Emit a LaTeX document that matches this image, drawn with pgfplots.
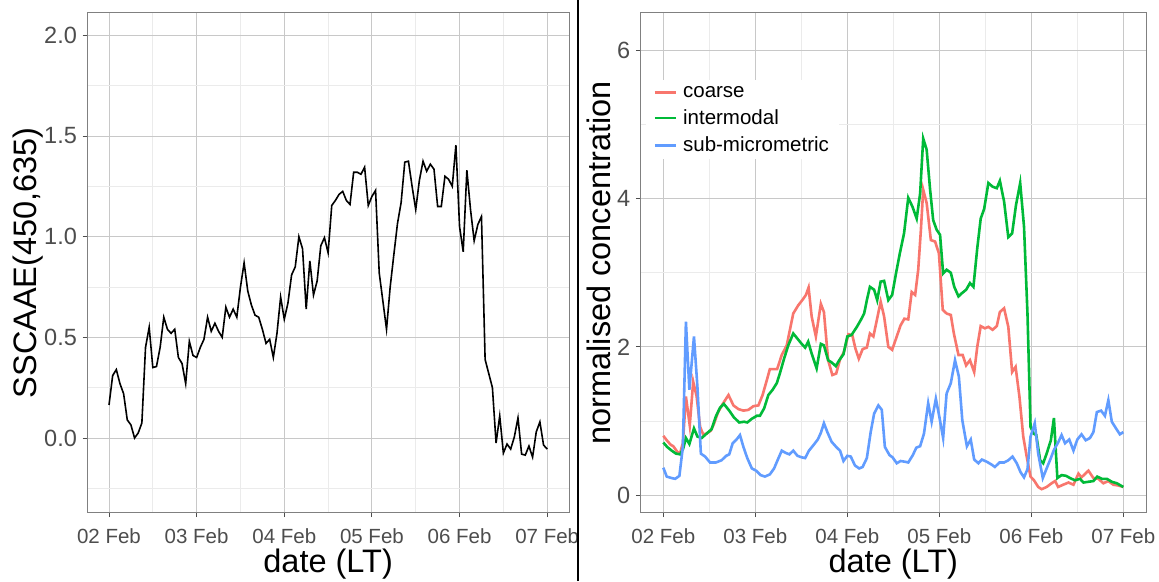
\documentclass[border=0pt]{standalone}
\usepackage{fontspec}
\setmainfont{Liberation Sans}
\usepackage{pgfplots}
\usepackage{pgfplotstable}
\pgfplotsset{compat=1.18}
\definecolor{coarse}{HTML}{F8766D}
\definecolor{inter}{HTML}{00BA38}
\definecolor{submic}{HTML}{619CFF}
\definecolor{gridmaj}{HTML}{C8C8C8}
\definecolor{gridmin}{HTML}{EBEBEB}
\definecolor{frame}{HTML}{808080}
\definecolor{ticklab}{HTML}{4D4D4D}

\pgfplotstableread{
h v
0 0.164
1 0.31
2 0.34
3 0.27
4 0.22
5 0.09
6 0.065
7 0.0
8 0.025
9 0.075
10 0.45
11 0.55
12 0.35
13 0.355
14 0.45
15 0.60
16 0.54
17 0.52
18 0.54
19 0.40
20 0.37
21 0.27
22 0.48
23 0.41
24 0.40
25 0.45
26 0.49
27 0.60
28 0.53
29 0.57
30 0.53
31 0.50
32 0.65
33 0.60
34 0.64
35 0.60
36 0.75
37 0.87
38 0.73
39 0.66
40 0.61
41 0.60
42 0.54
43 0.47
44 0.49
45 0.40
46 0.52
47 0.70
48 0.59
49 0.67
50 0.81
51 0.85
52 1.00
53 0.94
54 0.64
55 0.88
56 0.71
57 0.78
58 0.955
59 0.995
60 0.92
61 1.155
62 1.18
63 1.21
64 1.225
65 1.18
66 1.16
67 1.32
68 1.32
69 1.31
70 1.345
71 1.155
72 1.20
73 1.23
74 0.82
75 0.68
76 0.54
77 0.75
78 0.91
79 1.065
80 1.17
81 1.37
82 1.375
83 1.25
84 1.135
85 1.28
86 1.375
87 1.325
88 1.36
89 1.335
90 1.15
91 1.15
92 1.30
93 1.285
94 1.25
95 1.455
96 1.05
97 0.925
98 1.33
99 1.135
100 0.98
101 1.06
102 1.10
103 0.39
104 0.32
105 0.25
106 -0.025
107 0.11
108 -0.075
109 -0.03
110 -0.055
111 0.005
112 0.10
113 -0.08
114 -0.085
115 -0.04
116 -0.095
117 0.03
118 0.08
119 -0.035
120 -0.055
}\sscaae

\pgfplotstableread{
h v
0 0.80
0.9 0.74
1.9 0.68
2.6 0.66
3.7 0.58
4.4 0.57
5.1 0.70
5.9 1.33
6.9 0.94
7.8 1.53
8.7 1.33
9.6 0.92
10.4 0.82
11.3 0.83
12.4 0.87
13.2 0.96
14.3 1.12
15.5 1.23
17.0 1.35
18.3 1.21
19.6 1.16
20.9 1.14
22.2 1.15
23.5 1.20
24.8 1.21
25.9 1.35
27.0 1.55
27.8 1.70
29.7 1.70
30.9 1.89
32.2 2.02
33.9 2.45
35.2 2.56
36.4 2.64
37.2 2.70
37.9 2.80
38.7 2.41
39.8 2.14
41.1 2.58
41.9 2.47
43.0 1.82
44.1 1.62
45.1 1.64
46.1 1.83
47.1 1.93
48.3 2.17
49.3 2.16
50.1 1.98
51.0 1.84
52.0 1.97
53.1 1.99
53.9 2.18
54.8 2.14
55.7 2.36
56.7 2.61
57.6 2.41
58.7 2.00
59.7 1.96
60.9 2.14
61.9 2.29
62.9 2.38
63.9 2.37
64.8 2.74
65.7 2.70
66.5 3.04
67.2 3.58
67.8 4.12
68.7 3.94
69.8 3.44
70.9 3.42
71.9 3.26
72.9 2.50
73.9 2.45
75.0 2.43
75.8 2.18
77.0 1.89
78.1 1.89
79.0 1.75
80.0 1.82
81.1 1.66
81.9 2.00
82.8 2.28
83.9 2.25
84.8 2.27
85.9 2.23
87.0 2.28
87.8 2.47
88.9 2.52
90.0 2.27
91.0 1.66
91.9 1.73
92.9 1.33
93.9 0.79
94.8 0.52
95.8 0.25
96.7 0.20
97.8 0.11
98.7 0.08
100.0 0.11
101.3 0.16
102.2 0.19
103.0 0.11
104.3 0.14
105.7 0.17
107.0 0.14
108.3 0.29
109.1 0.24
110.9 0.33
112.2 0.23
113.5 0.22
114.8 0.16
116.1 0.19
117.4 0.14
118.7 0.13
120.0 0.11
}\coarsedata

\pgfplotstableread{
h v
0 0.71
1.0 0.65
2.2 0.60
3.3 0.56
4.4 0.55
5.2 0.63
5.9 0.77
6.8 0.69
8.0 0.90
8.9 0.79
10.0 0.77
11.3 0.83
12.6 0.89
13.7 1.06
14.8 1.18
15.8 1.23
17.2 1.14
18.4 1.05
19.8 0.98
21.1 0.99
21.9 0.98
23.1 1.03
24.4 1.07
25.2 1.07
26.3 1.17
27.4 1.35
28.5 1.42
29.6 1.51
30.4 1.64
31.5 1.84
32.6 2.02
33.9 2.18
35.0 2.11
36.1 2.04
37.0 1.99
37.8 2.07
38.7 1.91
40.0 1.71
41.1 2.04
41.9 2.02
43.0 1.82
43.9 1.79
45.0 1.74
45.9 1.82
47.0 1.90
48.0 2.14
49.1 2.16
50.5 2.27
51.5 2.36
52.4 2.45
53.1 2.63
53.9 2.81
55.0 2.77
55.8 2.63
56.7 2.88
57.6 2.89
58.7 2.63
59.7 2.70
60.7 2.99
61.7 3.26
62.8 3.53
63.9 4.01
65.0 3.89
66.1 3.73
67.0 4.07
67.8 4.81
68.7 4.66
69.6 4.12
70.4 3.71
71.3 3.58
72.2 3.51
73.0 2.99
73.9 3.04
75.0 3.00
75.9 2.81
77.0 2.68
77.8 2.72
79.0 2.77
80.0 2.86
80.9 2.81
81.9 3.33
82.8 3.73
83.7 3.86
84.8 4.21
85.9 4.16
87.0 4.14
87.8 4.24
88.9 3.96
90.0 3.48
91.0 3.53
92.0 3.91
93.1 4.21
94.1 3.62
95.0 2.45
95.8 0.92
96.6 0.83
97.3 0.81
98.3 0.47
99.1 0.43
100.0 0.56
101.1 0.74
101.9 1.04
102.8 0.23
103.9 0.27
105.1 0.26
106.1 0.23
107.4 0.20
108.7 0.22
109.6 0.17
110.9 0.18
112.2 0.19
113.2 0.25
114.4 0.22
115.7 0.22
117.0 0.18
118.3 0.16
120.0 0.11
}\interdata

\pgfplotstableread{
h v
0 0.37
0.9 0.25
2.2 0.23
3.1 0.22
4.2 0.26
5.1 0.65
5.9 2.34
6.8 1.42
8.0 2.14
8.9 1.46
9.8 0.56
10.9 0.52
12.2 0.44
13.7 0.44
15.2 0.47
16.4 0.53
17.2 0.55
18.1 0.70
19.1 0.75
20.0 0.81
20.9 0.65
21.9 0.50
23.1 0.36
24.2 0.33
25.4 0.27
26.5 0.25
27.8 0.28
28.9 0.36
29.8 0.47
30.9 0.60
31.9 0.57
32.9 0.55
33.9 0.60
35.0 0.53
36.1 0.51
37.0 0.50
38.0 0.60
39.1 0.67
40.3 0.75
41.1 0.84
41.9 0.97
42.8 0.85
43.9 0.72
45.1 0.65
46.1 0.60
47.0 0.46
48.0 0.53
48.9 0.52
50.0 0.40
51.1 0.36
52.0 0.38
53.1 0.50
54.1 0.85
55.0 1.10
56.1 1.21
57.0 1.15
57.8 0.65
59.0 0.54
59.8 0.51
60.9 0.43
61.9 0.46
63.1 0.45
63.9 0.44
65.1 0.54
66.0 0.64
67.0 0.66
68.0 0.83
69.1 1.24
70.0 0.99
71.1 1.30
72.0 1.06
73.0 0.77
73.9 1.37
75.0 1.51
76.1 1.82
77.1 1.60
78.0 1.01
79.2 0.66
80.2 0.75
81.1 0.48
82.2 0.43
83.1 0.48
84.4 0.45
85.7 0.41
86.5 0.38
87.7 0.44
88.9 0.44
90.0 0.47
91.1 0.52
92.2 0.43
93.2 0.31
94.1 0.24
95.0 0.35
95.8 0.79
96.9 0.97
97.8 0.56
99.0 0.23
100.0 0.36
101.1 0.50
101.9 0.61
103.0 0.71
103.9 0.81
104.8 0.70
105.9 0.75
107.0 0.60
108.0 0.75
109.1 0.82
110.2 0.74
111.3 0.77
112.2 0.85
113.1 1.12
114.2 1.14
115.2 1.07
116.1 1.28
117.0 0.99
118.1 0.90
119.1 0.82
120.0 0.85
}\submicdata

\pgfplotsset{
  myaxis/.style={
    scale only axis,
    axis line style={frame, line width=1pt},
    tick align=outside,
    tick pos=left,
    major tick length=4.5pt,
    minor tick length=0pt,
    tick style={color=ticklab, line width=0.9pt},
    grid=both,
    major grid style={gridmaj, line width=0.9pt},
    minor grid style={gridmin, line width=0.7pt},
    xmin=-6, xmax=126,
    xtick={0,24,48,72,96,120},
    xticklabels={02 Feb,03 Feb,04 Feb,05 Feb,06 Feb,07 Feb},
    minor xtick={12,36,60,84,108},
    xticklabel style={font=\fontsize{20.5}{21}\selectfont, text=ticklab, anchor=base, inner sep=0pt, yshift=-26.5pt},
    yticklabel style={font=\fontsize{23.5}{24}\selectfont, text=ticklab, anchor=east, inner sep=0pt, xshift=-5.5pt},
    xlabel={date (LT)},
    xlabel style={at={(axis description cs:0.5,0)}, anchor=base, yshift=-60pt, font=\fontsize{32.5}{34}\selectfont, inner sep=0pt},
    ylabel style={anchor=base, font=\fontsize{32.5}{34}\selectfont, inner sep=0pt},
    clip=true,
  }
}

\begin{document}
\begin{tikzpicture}[x=1pt,y=1pt]
\path[use as bounding box, fill=white] (0,0) rectangle (1159,581);

\begin{axis}[myaxis,
  at={(87.1pt,68.3pt)}, anchor=south west,
  width=482pt, height=499.7pt,
  ymin=-0.371, ymax=2.111,
  ytick={0,0.5,1,1.5,2},
  yticklabels={0.0,0.5,1.0,1.5,2.0},
  minor ytick={-0.25,0.25,0.75,1.25,1.75},
  ylabel={SSCAAE(450,635)},
  ylabel style={at={(axis description cs:-0.106,0.5)}},
]
\addplot[black, line width=1.6pt] table[x=h, y=v] {\sscaae};
\end{axis}

\draw[black, line width=1.3pt] (578,0) -- (578,581);

\begin{axis}[myaxis,
  at={(640.3pt,68.3pt)}, anchor=south west,
  width=506pt, height=499.7pt,
  ymin=-0.237, ymax=6.503,
  ytick={0,2,4,6},
  yticklabels={0,2,4,6},
  minor ytick={1,3,5},
  ylabel={normalised concentration},
  ylabel style={at={(axis description cs:-0.058,0.5)}},
  legend style={at={(axis description cs:0.0099,0.866)}, anchor=north west, draw=none, fill=white,
    font=\fontsize{20.5}{22}\selectfont, inner xsep=8pt, inner ysep=4pt, row sep=7pt,
    nodes={inner sep=2pt, text=black},
    /tikz/every odd column/.append style={column sep=4pt}},
  legend cell align=left,
  legend image code/.code={\draw[#1, line width=2.6pt] (0pt,0pt) -- (21pt,0pt);},
]
\addplot[coarse, line width=2.6pt] table[x=h, y=v] {\coarsedata};
\addlegendentry{coarse}
\addplot[inter, line width=2.6pt] table[x=h, y=v] {\interdata};
\addlegendentry{intermodal}
\addplot[submic, line width=2.6pt] table[x=h, y=v] {\submicdata};
\addlegendentry{sub-micrometric}
\end{axis}
\end{tikzpicture}
\end{document}
